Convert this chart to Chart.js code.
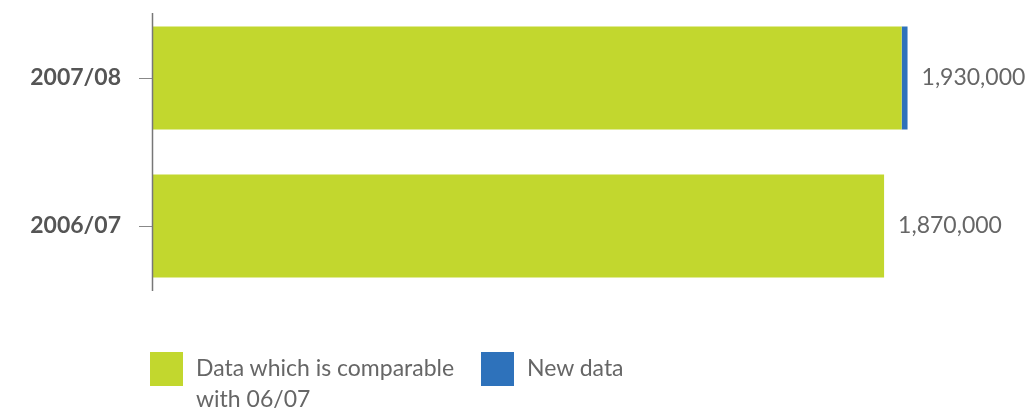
<!DOCTYPE html>
<html>
<head>
<meta charset="utf-8">
<script src="https://cdn.jsdelivr.net/npm/chart.js@4"></script>
<style>
  html, body { margin: 0; padding: 0; background: #fff; }
  #wrap { position: relative; width: 1036px; height: 415px; overflow: hidden; }
  #c { position: absolute; left: 0; top: 0; }
  .lg { position: absolute; font-family: Lato, "Open Sans", sans-serif; font-size: 23px; color: #666; line-height: 31px; }
  .sw { position: absolute; width: 33px; height: 34px; }
</style>
</head>
<body>
<div id="wrap">
  <canvas id="c" width="1036" height="415"></canvas>
  <div class="sw" id="sw0" style="left:150px; top:352px;"></div>
  <div class="lg" id="lg0" style="left:196px; top:352px; width:290px;"></div>
  <div class="sw" id="sw1" style="left:481px; top:352px;"></div>
  <div class="lg" id="lg1" style="left:527px; top:352px;"></div>
</div>
<script>
const categories = ['2007/08', '2006/07'];
const comparableData = [1915000, 1870000];
const newData = [15000, 0];
const totalLabels = ['1,930,000', '1,870,000'];
const seriesNames = ['Data which is comparable with 06/07', 'New data'];
const seriesColors = ['#c2d72e', '#2e72bb'];

document.getElementById('sw0').style.background = seriesColors[0];
document.getElementById('sw1').style.background = seriesColors[1];
document.getElementById('lg0').textContent = seriesNames[0];
document.getElementById('lg1').textContent = seriesNames[1];

const axisLine = {
  id: 'axisLine',
  afterDraw(chart) {
    const ctx = chart.ctx;
    const x = chart.chartArea.left - 0.5;
    ctx.save();
    ctx.strokeStyle = '#777';
    ctx.lineWidth = 1.5;
    ctx.beginPath();
    ctx.moveTo(x, 13);
    ctx.lineTo(x, 291);
    ctx.stroke();
    ctx.restore();
  }
};

const valueLabels = {
  id: 'valueLabels',
  afterDatasetsDraw(chart) {
    const ctx = chart.ctx;
    const last = chart.getDatasetMeta(chart.data.datasets.length - 1);
    const first = chart.getDatasetMeta(0);
    ctx.save();
    ctx.font = '23px Lato, "Open Sans", sans-serif';
    ctx.fillStyle = '#666';
    ctx.textBaseline = 'middle';
    ctx.textAlign = 'left';
    categories.forEach((c, i) => {
      const xEnd = Math.max(first.data[i].x, last.data[i].x);
      ctx.fillText(totalLabels[i], xEnd + 14, first.data[i].y);
    });
    ctx.restore();
  }
};

new Chart(document.getElementById('c'), {
  type: 'bar',
  data: {
    labels: categories,
    datasets: [
      { label: seriesNames[0], data: comparableData, backgroundColor: seriesColors[0], barPercentage: 0.696, categoryPercentage: 1 },
      { label: seriesNames[1], data: newData, backgroundColor: seriesColors[1], barPercentage: 0.696, categoryPercentage: 1 }
    ]
  },
  options: {
    indexAxis: 'y',
    responsive: false,
    animation: false,
    devicePixelRatio: 1,
    layout: { padding: { top: 4, bottom: 115, right: 62, left: 0 } },
    plugins: { legend: { display: false }, tooltip: { enabled: false } },
    scales: {
      x: { stacked: true, display: false, min: 0, max: 2100000 },
      y: {
        stacked: true,
        border: { display: false },
        grid: { display: true, drawOnChartArea: false, drawTicks: true, tickLength: 14, color: '#888', lineWidth: 1, offset: false },
        ticks: { color: '#555', padding: 18, font: { family: 'Lato, "Open Sans", sans-serif', size: 23, weight: 'bold' } },
        afterFit(scale) { scale.width = 153; scale.paddingTop = 0; scale.paddingBottom = 0; }
      }
    }
  },
  plugins: [axisLine, valueLabels]
});
</script>
</body>
</html>
